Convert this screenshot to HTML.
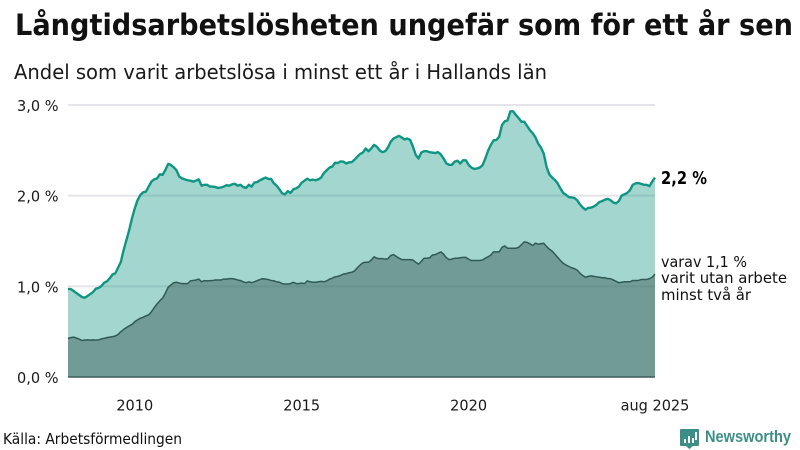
<!DOCTYPE html>
<html lang="sv">
<head>
<meta charset="utf-8">
<title>Långtidsarbetslösheten</title>
<style>
html,body{margin:0;padding:0;background:#fff;width:800px;height:450px;overflow:hidden}
svg{display:block;font-family:"DejaVu Sans","Liberation Sans",sans-serif}
</style>
</head>
<body>
<svg id="chart" width="800" height="450" viewBox="0 0 800 450" xmlns="http://www.w3.org/2000/svg">
  <rect width="800" height="450" fill="#fff"/>
  <text x="15" y="35" font-size="29" font-weight="700" fill="#111" textLength="778" lengthAdjust="spacingAndGlyphs">Långtidsarbetslösheten ungefär som för ett år sen</text>
  <text x="14" y="79" font-size="20" fill="#1a1a1a" textLength="533" lengthAdjust="spacingAndGlyphs">Andel som varit arbetslösa i minst ett år i Hallands län</text>
  <g id="grid"></g>
  <g id="areas"></g>
  <g id="ylabels"></g>
  <g id="xlabels"></g>
  <text x="661" y="184" font-size="17.5" font-weight="700" fill="#000" textLength="46" lengthAdjust="spacingAndGlyphs">2,2 %</text>
  <g font-size="15.5" fill="#111">
    <text x="661" y="267" textLength="86" lengthAdjust="spacingAndGlyphs">varav 1,1 %</text>
    <text x="661" y="283" textLength="126" lengthAdjust="spacingAndGlyphs">varit utan arbete</text>
    <text x="661" y="300" textLength="90" lengthAdjust="spacingAndGlyphs">minst två år</text>
  </g>
  <text x="3" y="444" font-size="15.2" fill="#111" textLength="179" lengthAdjust="spacingAndGlyphs">Källa: Arbetsförmedlingen</text>
  <g>
    <path d="M681 429h17a1 1 0 0 1 1 1v15a1 1 0 0 1-1 1h-5l-3.500 3-3.500-3h-5a1 1 0 0 1-1-1v-15a1 1 0 0 1 1-1z" fill="#3c8f87"/>
    <rect x="684" y="439" width="2" height="4" fill="#fff"/>
    <rect x="688" y="436" width="2" height="7" fill="#fff"/>
    <rect x="692" y="438" width="2" height="5" fill="#fff"/>
    <rect x="695" y="432" width="2" height="8" fill="#fff"/>
    <text x="705" y="442" font-size="16.5" font-weight="700" fill="#3c8f87" style="font-family:'Liberation Sans',sans-serif" textLength="86" lengthAdjust="spacingAndGlyphs">Newsworthy</text>
  </g>
</svg>
<script>
var totalShare = [
 .97,.97,.949,.926,.904,.882,.875,.893,.915,.937,.974,.982,
 1.004,1.04,1.055,1.088,1.13,1.143,1.206,1.27,1.40,1.51,1.62,1.75,
 1.86,1.95,2.007,2.037,2.044,2.10,2.155,2.18,2.19,2.235,2.23,2.283,
 2.35,2.338,2.313,2.28,2.21,2.19,2.18,2.17,2.165,2.155,2.165,2.18,
 2.11,2.12,2.12,2.10,2.10,2.095,2.085,2.09,2.10,2.115,2.11,2.125,
 2.13,2.11,2.12,2.095,2.085,2.12,2.10,2.145,2.15,2.17,2.185,2.20,
 2.185,2.185,2.136,2.11,2.07,2.025,2.015,2.05,2.03,2.07,2.08,2.10,
 2.143,2.165,2.187,2.17,2.177,2.17,2.18,2.20,2.25,2.28,2.31,2.32,
 2.363,2.36,2.378,2.375,2.355,2.367,2.37,2.397,2.43,2.46,2.475,2.52,
 2.49,2.52,2.56,2.54,2.50,2.48,2.49,2.53,2.595,2.63,2.645,2.66,
 2.64,2.62,2.63,2.615,2.54,2.45,2.41,2.475,2.49,2.49,2.48,2.475,
 2.47,2.48,2.455,2.41,2.355,2.34,2.34,2.375,2.385,2.355,2.39,2.39,
 2.34,2.31,2.295,2.30,2.31,2.335,2.41,2.495,2.56,2.61,2.615,2.65,
 2.78,2.82,2.83,2.93,2.93,2.89,2.855,2.815,2.815,2.77,2.724,2.69,
 2.645,2.575,2.53,2.465,2.32,2.235,2.20,2.173,2.135,2.08,2.03,2.01,
 1.985,1.98,1.975,1.95,1.905,1.87,1.845,1.865,1.868,1.88,1.90,1.93,
 1.94,1.955,1.965,1.95,1.925,1.915,1.94,2.00,2.015,2.03,2.06,2.12,
 2.135,2.14,2.13,2.12,2.12,2.105,2.155,2.20
];
var twoYearShare = [
 .426,.434,.44,.43,.418,.403,.407,.41,.407,.41,.407,.41,
 .42,.426,.434,.44,.445,.452,.47,.50,.525,.545,.563,.58,
 .61,.63,.648,.658,.675,.685,.72,.765,.805,.84,.87,.925,
 .99,1.015,1.04,1.045,1.036,1.03,1.03,1.03,1.06,1.065,1.07,1.08,
 1.05,1.063,1.06,1.063,1.065,1.07,1.07,1.07,1.08,1.08,1.085,1.085,
 1.08,1.07,1.063,1.05,1.04,1.05,1.04,1.05,1.063,1.075,1.085,1.08,
 1.075,1.065,1.06,1.05,1.045,1.03,1.025,1.025,1.03,1.045,1.03,1.03,
 1.035,1.03,1.06,1.05,1.045,1.045,1.05,1.055,1.05,1.06,1.08,1.09,
 1.105,1.11,1.12,1.135,1.14,1.15,1.155,1.17,1.205,1.235,1.26,1.265,
 1.265,1.29,1.325,1.31,1.305,1.305,1.30,1.305,1.34,1.35,1.33,1.31,
 1.295,1.295,1.295,1.295,1.29,1.265,1.245,1.275,1.31,1.31,1.315,1.345,
 1.35,1.365,1.38,1.355,1.315,1.295,1.30,1.31,1.31,1.315,1.32,1.32,
 1.30,1.285,1.285,1.285,1.285,1.29,1.31,1.325,1.345,1.38,1.38,1.38,
 1.43,1.445,1.42,1.42,1.42,1.42,1.43,1.46,1.49,1.485,1.47,1.45,
 1.475,1.465,1.47,1.475,1.44,1.41,1.39,1.355,1.32,1.285,1.255,1.235,
 1.22,1.205,1.195,1.18,1.145,1.12,1.10,1.11,1.115,1.11,1.105,1.10,
 1.095,1.095,1.085,1.085,1.07,1.055,1.04,1.045,1.05,1.05,1.05,1.065,
 1.065,1.065,1.075,1.075,1.075,1.085,1.10,1.135
];
var yTicks = [0, 1, 2, 3];
var yTickLabels = ["0,0 %", "1,0 %", "2,0 %", "3,0 %"];
var xTickMonths = [24, 84, 144, 211];
var xTickLabels = ["2010", "2015", "2020", "aug 2025"];

var NS = "http://www.w3.org/2000/svg";
var left = 68, right = 655, base = 377, unit = 90.67;
function xScale(m){ return left + (right - left) * m / (totalShare.length - 1); }
function yScale(v){ return base - unit * v; }
function linePath(vals){
  return vals.map(function(v,i){ return (i ? "L" : "M") + xScale(i).toFixed(2) + " " + yScale(v).toFixed(2); }).join("");
}
function areaPath(vals){
  return linePath(vals) + "L" + xScale(vals.length - 1).toFixed(2) + " " + base + "L" + left + " " + base + "Z";
}
function mk(tag, attrs, parent){
  var el = document.createElementNS(NS, tag);
  for (var k in attrs) el.setAttribute(k, attrs[k]);
  parent.appendChild(el);
  return el;
}
function squeeze(el){
  el.setAttribute("textLength", (el.getComputedTextLength() * 0.955).toFixed(1));
  el.setAttribute("lengthAdjust", "spacingAndGlyphs");
}
var grid = document.getElementById("grid");
var ylabels = document.getElementById("ylabels");
var xlabels = document.getElementById("xlabels");
var areas = document.getElementById("areas");

yTicks.forEach(function(t, i){
  if (t > 0) {
    var g = mk("line", {x1:left, x2:right, y1:yScale(t), y2:yScale(t), stroke:"#e4e4ea", "stroke-width":2}, grid);
    
    
  }
  var yl = mk("text", {x:58.500, y:yScale(t) + 6, "text-anchor":"end", "font-size":15.2, fill:"#1a1a1a"}, ylabels);
  
  
  yl.textContent = yTickLabels[i];
  squeeze(yl);
});
xTickMonths.forEach(function(m, i){
  var xl = mk("text", {x:xScale(m), y:410.500, "text-anchor":"middle", "font-size":15.2, fill:"#1a1a1a"}, xlabels);
  
  
  xl.textContent = xTickLabels[i];
  squeeze(xl);
});

var a1 = mk("path", {d:areaPath(totalShare), fill:"#0e9482", "fill-opacity":.38}, areas);


var a2 = mk("path", {d:areaPath(twoYearShare), fill:"rgb(63,97,91)", "fill-opacity":.5}, areas);


var bl = mk("line", {x1:left, x2:right, y1:base, y2:base, stroke:"#3a5f5a", "stroke-width":1.500}, areas);


var l2 = mk("path", {d:linePath(twoYearShare), fill:"none", stroke:"#2f5a55", "stroke-width":1.500, "stroke-linejoin":"round"}, areas);


var l1 = mk("path", {d:linePath(totalShare), fill:"none", stroke:"#0f9683", "stroke-width":2.400, "stroke-linejoin":"round"}, areas);


</script>
</body>
</html>
